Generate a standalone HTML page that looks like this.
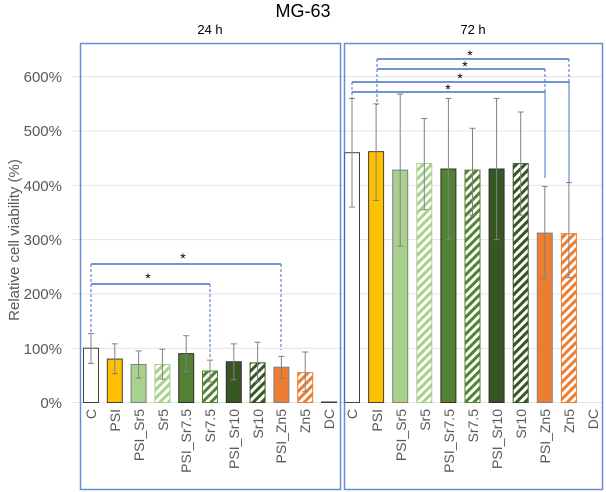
<!DOCTYPE html>
<html><head><meta charset="utf-8"><style>
body{margin:0;background:#fff}
svg{display:block;font-family:"Liberation Sans",Arial,sans-serif}
</style></head><body>
<svg id="s" width="606" height="492" viewBox="0 0 606 492">
<defs>
<pattern id="hl" patternUnits="userSpaceOnUse" width="6" height="6" patternTransform="rotate(45)"><rect width="6" height="6" fill="#fff"/><rect width="3" height="6" fill="#A9D18E"/></pattern>
<pattern id="hm" patternUnits="userSpaceOnUse" width="6" height="6" patternTransform="rotate(45)"><rect width="6" height="6" fill="#fff"/><rect width="3" height="6" fill="#548235"/></pattern>
<pattern id="hd" patternUnits="userSpaceOnUse" width="6" height="6" patternTransform="rotate(45)"><rect width="6" height="6" fill="#fff"/><rect width="3" height="6" fill="#375623"/></pattern>
<pattern id="ho" patternUnits="userSpaceOnUse" width="6" height="6" patternTransform="rotate(45)"><rect width="6" height="6" fill="#fff"/><rect width="3" height="6" fill="#ED7D31"/></pattern>
</defs>
<g id="grid" stroke="#e4e4e4" stroke-width="1"></g>
<g id="bars"></g>
<g font-size="15" fill="#595959" text-anchor="end">
<text x="62" y="82">600%</text><text x="62" y="136">500%</text><text x="62" y="191">400%</text>
<text x="62" y="245">300%</text><text x="62" y="299">200%</text><text x="62" y="354">100%</text><text x="62" y="408">0%</text>
</g>
<text transform="translate(19,240) rotate(-90)" font-size="15" fill="#595959" text-anchor="middle">Relative cell viability (%)</text>
<text x="303" y="17" font-size="18" text-anchor="middle" fill="#000">MG-63</text>
<text x="210" y="34" font-size="13" text-anchor="middle" fill="#000">24 h</text>
<text x="473" y="34" font-size="13" text-anchor="middle" fill="#000">72 h</text>
<g id="labels" font-size="14" fill="#595959" text-anchor="end">
<text transform="translate(96,409) rotate(-90)">C</text>
<text transform="translate(120,409) rotate(-90)">PSI</text>
<text transform="translate(144,409) rotate(-90)">PSI_Sr5</text>
<text transform="translate(168,409) rotate(-90)">Sr5</text>
<text transform="translate(191,409) rotate(-90)">PSI_Sr7.5</text>
<text transform="translate(215,409) rotate(-90)">Sr7.5</text>
<text transform="translate(239,409) rotate(-90)">PSI_Sr10</text>
<text transform="translate(263,409) rotate(-90)">Sr10</text>
<text transform="translate(286,409) rotate(-90)">PSI_Zn5</text>
<text transform="translate(310,409) rotate(-90)">Zn5</text>
<text transform="translate(334,409) rotate(-90)">DC</text>
<text transform="translate(357,409) rotate(-90)">C</text>
<text transform="translate(382,409) rotate(-90)">PSI</text>
<text transform="translate(406,409) rotate(-90)">PSI_Sr5</text>
<text transform="translate(430,409) rotate(-90)">Sr5</text>
<text transform="translate(454,409) rotate(-90)">PSI_Sr7.5</text>
<text transform="translate(478,409) rotate(-90)">Sr7.5</text>
<text transform="translate(502,409) rotate(-90)">PSI_Sr10</text>
<text transform="translate(526,409) rotate(-90)">Sr10</text>
<text transform="translate(550,409) rotate(-90)">PSI_Zn5</text>
<text transform="translate(574,409) rotate(-90)">Zn5</text>
<text transform="translate(598,409) rotate(-90)">DC</text>
</g>
<g id="sig" stroke="#4472C4" fill="none"></g>
<g font-size="14" text-anchor="middle" fill="#000">
<text x="183" y="263">*</text><text x="148" y="283">*</text>
<text x="470" y="60">*</text><text x="465" y="71">*</text><text x="460" y="83">*</text><text x="448" y="94">*</text>
</g>
<rect x="80.5" y="43.5" width="260" height="446" fill="none" stroke="#4472C4" stroke-width="1.5" opacity="0.8"/>
<rect x="344.5" y="43.5" width="258" height="446" fill="none" stroke="#4472C4" stroke-width="1.5" opacity="0.8"/>
</svg>
<script>
const NS="http://www.w3.org/2000/svg";
function el(p,t,a){const e=document.createElementNS(NS,t);for(const k in a)e.setAttribute(k,a[k]);document.getElementById(p).appendChild(e);return e;}
const Y=v=>402.5-v*0.543;
for(let v=0;v<=600;v+=100)el("grid","line",{x1:72,x2:602,y1:Y(v),y2:Y(v)});
const fills=["#fff","#FFC000","#A9D18E","url(#hl)","#548235","url(#hm)","#375623","url(#hd)","#ED7D31","url(#ho)","#fff"];
const strokes=["#404040","#404040","#808080","#A9D18E","#303030","#548235","#303030","#375623","#808080","#ED7D31","#404040"];
const L=[[100,72,127],[80,53,108],[70,45,95],[70,43,98],[90,57,123],[58,38,78],[75,42,108],[73,38,111],[65,45,85],[55,20,93],[1,1,1]];
const R=[[460,360,560],[462,372,550],[428,288,568],[440,355,523],[430,300,560],[428,345,505],[430,300,560],[440,345,535],[312,228,398],[311,230,405],[0,0,0]];
function draw(x0,dx,D){D.forEach((d,i)=>{const c=x0+i*dx;
 if(d[0]>0)el("bars","rect",{x:c-7.5,y:Y(d[0]),width:15,height:Y(0)-Y(d[0]),fill:fills[i],stroke:strokes[i],"stroke-width":1});
 if(d[1]!==d[2]){el("bars","line",{x1:c,x2:c,y1:Y(d[1]),y2:Y(d[2]),stroke:"#808080"});
 el("bars","line",{x1:c-3,x2:c+3,y1:Y(d[1]),y2:Y(d[1]),stroke:"#808080"});
 el("bars","line",{x1:c-3,x2:c+3,y1:Y(d[2]),y2:Y(d[2]),stroke:"#808080"});}
});}
draw(91,23.8,L);draw(352,24.1,R);
function br(x1,x2,y,b1,b2){el("sig","line",{x1:x1,x2:x2,y1:y,y2:y,"stroke-width":1.5});
 el("sig","line",{x1:x1,x2:x1,y1:y,y2:b1,"stroke-dasharray":"3,2"});
 el("sig","line",{x1:x2,x2:x2,y1:y,y2:b2,"stroke-dasharray":"3,2"});}
br(91,281,264,333,350);br(91,210,284,333,358);
br(377,569,59,105,183);br(377,545,69,105,178);br(352,569,82,98,183);br(352,545,92,98,178);
</script>
</body></html>
